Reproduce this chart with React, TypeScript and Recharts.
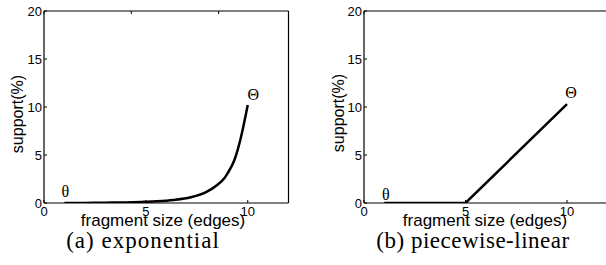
import React from 'react';
import { LineChart, Line, XAxis, YAxis, ReferenceDot } from 'recharts';

// fragment size (edges)
const expSizes = [1, 2, 3, 4, 4.75, 5.5, 6.35, 7.2, 8, 8.5, 8.85, 9, 9.35, 9.65, 10];
// support (%) for the exponential curve
const expSupport = [0, 0.01, 0.03, 0.06, 0.1, 0.17, 0.31, 0.59, 1.18, 1.88, 2.57, 3.05, 4.5, 6.7, 10.2];

const linSizes = [1, 5, 10];
const linSupport = [0, 0, 10.3];

const xTicks = [0, 5, 10];
const yTicks = [0, 5, 10, 15, 20];

const sans = '"Liberation Sans", Arial, sans-serif';
const serif = '"Liberation Serif", "Times New Roman", serif';

const toRows = (xs: number[], ys: number[]) => xs.map((x, i) => ({ size: x, support: ys[i] }));

const expData = toRows(expSizes, expSupport);
const linData = toRows(linSizes, linSupport);

interface PanelProps {
  data: { size: number; support: number }[];
  width: number;
  marginLeft: number;
  marginRight: number;
  smallTheta: { x: number; y: number };
  bigTheta: { x: number; y: number };
  curve: 'monotone' | 'linear';
}

function Panel({ data, width, marginLeft, marginRight, smallTheta, bigTheta, curve }: PanelProps) {
  const tickStyle = { fontSize: 13, fill: '#000', fontFamily: sans };
  return (
    <LineChart
      width={width}
      height={265}
      data={data}
      margin={{ top: 6, right: marginRight, bottom: 32, left: marginLeft }}
    >
      <XAxis
        dataKey="size"
        type="number"
        domain={[0, 12]}
        ticks={xTicks}
        height={30}
        tick={tickStyle}
        tickSize={-3}
        tickMargin={7}
        axisLine={{ stroke: '#000', strokeWidth: 1.2 }}
        tickLine={{ stroke: '#000' }}
        allowDataOverflow
      />
      <XAxis
        xAxisId="top"
        orientation="top"
        type="number"
        domain={[0, 12]}
        ticks={xTicks}
        height={5}
        tickSize={-3}
        tickFormatter={() => ''}
        axisLine={{ stroke: '#000', strokeWidth: 1.2 }}
        tickLine={{ stroke: '#000' }}
      />
      <YAxis
        type="number"
        domain={[0, 20]}
        ticks={yTicks}
        width={30}
        tick={tickStyle}
        tickSize={-3}
        tickMargin={5}
        axisLine={{ stroke: '#000', strokeWidth: 1.2 }}
        tickLine={{ stroke: '#000' }}
        allowDataOverflow
      />
      <YAxis
        yAxisId="right"
        orientation="right"
        type="number"
        domain={[0, 20]}
        ticks={yTicks}
        width={5}
        tickSize={-3}
        tickFormatter={() => ''}
        axisLine={{ stroke: '#000', strokeWidth: 1.2 }}
        tickLine={{ stroke: '#000' }}
      />
      <Line
        type={curve}
        dataKey="support"
        stroke="#000"
        strokeWidth={2.5}
        dot={false}
        isAnimationActive={false}
      />
      <ReferenceDot
        x={smallTheta.x}
        y={smallTheta.y}
        r={0}
        fill="none"
        stroke="none"
        label={{ value: 'θ', position: 'center', fontSize: 16, fill: '#000', fontFamily: serif }}
      />
      <ReferenceDot
        x={bigTheta.x}
        y={bigTheta.y}
        r={0}
        fill="none"
        stroke="none"
        label={{ value: 'Θ', position: 'center', fontSize: 16, fill: '#000', fontFamily: serif }}
      />
    </LineChart>
  );
}

const abs = (s: React.CSSProperties): React.CSSProperties => ({ position: 'absolute', whiteSpace: 'nowrap', ...s });

export default function App() {
  return (
    <div style={{ position: 'absolute', left: 0, top: 0, width: 606, height: 265, overflow: 'hidden', background: '#fff' }}>
      <div style={abs({ left: 0, top: 0 })}>
        <Panel
          data={expData}
          width={300}
          marginLeft={14}
          marginRight={6.5}
          smallTheta={{ x: 1.05, y: 1.2 }}
          bigTheta={{ x: 10.27, y: 11.3 }}
          curve="monotone"
        />
      </div>
      <div style={abs({ left: 300, top: 0 })}>
        <Panel
          data={linData}
          width={320}
          marginLeft={34}
          marginRight={7.4}
          smallTheta={{ x: 1.08, y: 0.9 }}
          bigTheta={{ x: 10.2, y: 11.5 }}
          curve="linear"
        />
      </div>

      {/* axis titles */}
      <div style={abs({ left: 18, top: 114, transform: 'translate(-50%, -50%) rotate(-90deg)', fontFamily: sans, fontSize: 16, lineHeight: '16px' })}>
        support(%)
      </div>
      <div style={abs({ left: 338.5, top: 113, transform: 'translate(-50%, -50%) rotate(-90deg)', fontFamily: sans, fontSize: 16, lineHeight: '16px' })}>
        support(%)
      </div>
      <div style={abs({ left: 163, top: 213, transform: 'translateX(-50%)', fontFamily: sans, fontSize: 17, lineHeight: '16px' })}>
        fragment size (edges)
      </div>
      <div style={abs({ left: 485, top: 213, transform: 'translateX(-50%)', fontFamily: sans, fontSize: 17, lineHeight: '16px' })}>
        fragment size (edges)
      </div>

      {/* captions */}
      <div style={abs({ left: 143, top: 229, transform: 'translateX(-50%)', fontFamily: serif, fontSize: 23, lineHeight: '23px', letterSpacing: 1 })}>
        (a) exponential
      </div>
      <div style={abs({ left: 473, top: 229, transform: 'translateX(-50%)', fontFamily: serif, fontSize: 23, lineHeight: '23px', letterSpacing: 0.5 })}>
        (b) piecewise-linear
      </div>
    </div>
  );
}
